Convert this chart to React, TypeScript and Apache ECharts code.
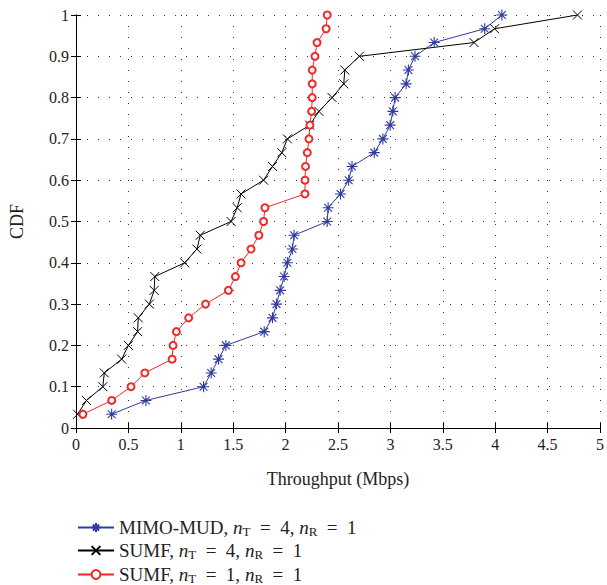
import React, { useEffect, useRef } from "react";
import * as echarts from "echarts";

const cdfLevels = [
  0.0333, 0.0667, 0.1, 0.1333, 0.1667, 0.2, 0.2333, 0.2667, 0.3, 0.3333,
  0.3667, 0.4, 0.4333, 0.4667, 0.5, 0.5333, 0.5667, 0.6, 0.6333, 0.6667,
  0.7, 0.7333, 0.7667, 0.8, 0.8333, 0.8667, 0.9, 0.9333, 0.9667, 1,
];

const mimoMud = [
  0.34, 0.667, 1.217, 1.29, 1.36, 1.43, 1.796, 1.875, 1.913, 1.948,
  1.986, 2.017, 2.065, 2.081, 2.397, 2.406, 2.524, 2.602, 2.634, 2.846,
  2.928, 2.998, 3.023, 3.045, 3.15, 3.172, 3.235, 3.418, 3.9, 4.064,
];

const sumf4 = [
  0.015, 0.1, 0.256, 0.27, 0.436, 0.5, 0.588, 0.594, 0.7, 0.746,
  0.752, 1.037, 1.154, 1.186, 1.48, 1.538, 1.575, 1.79, 1.875, 1.964,
  2.017, 2.23, 2.318, 2.444, 2.555, 2.565, 2.704, 3.798, 3.994, 4.785,
];

const sumf1 = [
  0.066, 0.341, 0.525, 0.657, 0.917, 0.926, 0.958, 1.075, 1.236, 1.454,
  1.521, 1.575, 1.67, 1.745, 1.79, 1.803, 2.185, 2.185, 2.19, 2.207,
  2.223, 2.232, 2.248, 2.254, 2.254, 2.254, 2.28, 2.3, 2.387, 2.397,
];

const seriesNames = [
  "{t|MIMO-MUD, }{i|n}{s|T}{t|\u2002=\u20024, }{i|n}{s|R}{t|\u2002=\u20021}",
  "{t|SUMF, }{i|n}{s|T}{t|\u2002=\u20024, }{i|n}{s|R}{t|\u2002=\u20021}",
  "{t|SUMF, }{i|n}{s|T}{t|\u2002=\u20021, }{i|n}{s|R}{t|\u2002=\u20021}",
];

const xTicks = { min: 0, max: 5, interval: 0.5 };
const yTicks = { min: 0, max: 1, interval: 0.1 };

const starPath =
  "path://M5 0L5 10M0 5L10 5M1.46 1.46L8.54 8.54M1.46 8.54L8.54 1.46";
const crossPath = "path://M0 0L10 10M0 10L10 0";

const FONT = "Liberation Serif";

function pairs(xs: number[]) {
  return xs.map((x, i) => [x, cdfLevels[i]]);
}

export default function App() {
  const ref = useRef<HTMLDivElement>(null);
  useEffect(() => {
    if (!ref.current) return;
    const chart = echarts.init(ref.current, null, { renderer: "svg" });
    const fmt = (v: number) => String(Math.round(v * 10) / 10);
    const axisCommon = {
      axisLine: { show: true, lineStyle: { color: "#000", width: 1 } },
      axisTick: { show: true, inside: true, length: 5, lineStyle: { color: "#000" } },
    };
    const blue = "#2f3b9e";
    const red = "#ee2a2a";
    const black = "#000";
    const legendText = {
      fontFamily: FONT,
      fontSize: 19,
      color: "#222",
      rich: {
        t: { fontFamily: FONT, fontSize: 19, color: "#222" },
        i: { fontFamily: FONT, fontSize: 19, fontStyle: "italic", color: "#222" },
        s: { fontFamily: FONT, fontSize: 13, color: "#222", padding: [8, 0, 0, 0] },
      },
    };
    const legendTops = [513, 536, 560];
    chart.setOption({
      animation: false,
      backgroundColor: "#fff",
      grid: { left: 76, right: 4, top: 15, bottom: 157, containLabel: false },
      legend: seriesNames.map((n, i) => ({
        orient: "vertical",
        left: 72,
        top: legendTops[i],
        itemWidth: 36,
        itemHeight: 11,
        itemGap: 10,
        textStyle: legendText,
        data: [n],
      })),
      xAxis: [
        {
          type: "value",
          ...xTicks,
          ...axisCommon,
          axisLabel: { fontFamily: FONT, fontSize: 16, color: "#222", margin: 8, formatter: fmt },
          splitLine: { show: true, lineStyle: { color: "#333", type: [1, 10], width: 1 } },
          name: "Throughput (Mbps)",
          nameLocation: "middle",
          nameGap: 42,
          nameTextStyle: { fontFamily: FONT, fontSize: 18, color: "#222" },
        },
        {
          type: "value",
          position: "top",
          ...xTicks,
          ...axisCommon,
          axisLabel: { show: false },
          splitLine: { show: false },
        },
      ],
      yAxis: [
        {
          type: "value",
          ...yTicks,
          ...axisCommon,
          axisLabel: { fontFamily: FONT, fontSize: 16, color: "#222", margin: 7, formatter: fmt },
          splitLine: { show: true, lineStyle: { color: "#333", type: [1, 10], width: 1 } },
          name: "CDF",
          nameLocation: "middle",
          nameGap: 50,
          nameRotate: 90,
          nameTextStyle: { fontFamily: FONT, fontSize: 18, color: "#222" },
        },
        {
          type: "value",
          position: "right",
          ...yTicks,
          ...axisCommon,
          axisLabel: { show: false },
          splitLine: { show: false },
        },
      ],
      series: [
        {
          name: seriesNames[0],
          type: "line",
          data: pairs(mimoMud),
          symbol: starPath,
          symbolSize: 11,
          showAllSymbol: true,
          lineStyle: { color: blue, width: 1 },
          itemStyle: { color: blue, borderColor: blue, borderWidth: 1.1 },
        },
        {
          name: seriesNames[1],
          type: "line",
          data: pairs(sumf4),
          symbol: crossPath,
          symbolSize: 9,
          showAllSymbol: true,
          lineStyle: { color: black, width: 1 },
          itemStyle: { color: black, borderColor: black, borderWidth: 1 },
        },
        {
          name: seriesNames[2],
          type: "line",
          data: pairs(sumf1),
          symbol: "emptyCircle",
          symbolSize: 7,
          showAllSymbol: true,
          lineStyle: { color: red, width: 1 },
          itemStyle: { color: red, borderColor: red, borderWidth: 1 },
        },
      ],
    });
    return () => chart.dispose();
  }, []);
  return <div ref={ref} style={{ width: 607, height: 585, position: "absolute", left: 0, top: 0 }} />;
}
